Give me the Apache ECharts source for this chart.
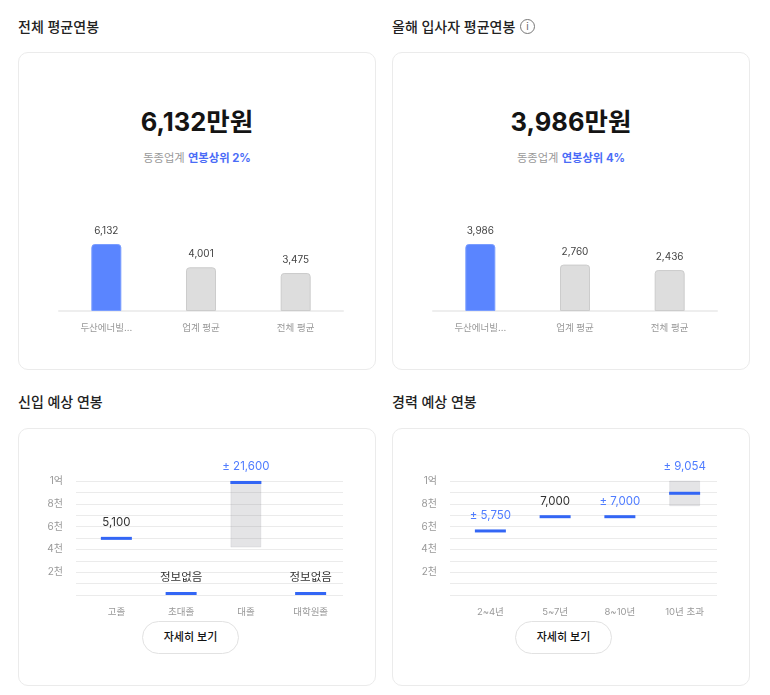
<!DOCTYPE html>
<html>
<head>
<meta charset="utf-8">
<script src="https://cdn.jsdelivr.net/npm/echarts@6/dist/echarts.min.js"></script>
<style>
    html, body { margin: 0; padding: 0; background: #fff; }
    body { width: 770px; height: 695px; position: relative; overflow: hidden; font-family: Inter, "Noto Sans CJK KR", sans-serif; }
    .title { position: absolute; font-size: 14px; font-weight: 500; color: #222; line-height: 20px; white-space: nowrap; }
    .card { position: absolute; width: 356px; border: 1px solid #ebebeb; border-radius: 10px; background: #fff; }
    .big { position: absolute; width: 358px; text-align: center; top: 103px; font-size: 25.5px; font-weight: 700; color: #141414; line-height: 36px; }
    .sub { position: absolute; width: 358px; text-align: center; top: 149px; font-size: 11.3px; color: #9a9a9a; line-height: 18px; }
    .sub b { color: #4a6cf7; font-weight: 700; }
    .chart { position: absolute; }
    .btn { position: absolute; top: 621px; width: 95px; height: 31px; border: 1px solid #e2e2e2; border-radius: 17px; background: #fff; text-align: center; line-height: 31px; font-size: 11px; font-weight: 500; color: #111; }
    .info { position: absolute; left: 520px; top: 19px; width: 13px; height: 13px; border: 1px solid #777; border-radius: 50%; text-align: center; font-size: 10px; line-height: 13px; color: #666; }
</style>
</head>
<body>
<div class="title" style="left:18px;top:17px">전체 평균연봉</div>
<div class="title" style="left:392px;top:17px">올해 입사자 평균연봉</div>
<div class="info">i</div>
<div class="title" style="left:18px;top:392px">신입 예상 연봉</div>
<div class="title" style="left:392px;top:392px">경력 예상 연봉</div>

<div class="card" style="left:18px;top:52px;height:316px"></div>
<div class="card" style="left:392px;top:52px;height:316px"></div>
<div class="card" style="left:18px;top:428px;height:256px"></div>
<div class="card" style="left:392px;top:428px;height:256px"></div>

<div class="big" style="left:18px;top:104px">6,132만원</div>
<div class="sub" style="left:18px">동종업계 <b>연봉상위 2%</b></div>
<div class="big" style="left:392px;top:104px">3,986만원</div>
<div class="sub" style="left:392px">동종업계 <b>연봉상위 4%</b></div>

<div class="chart" id="avgAll" style="left:19px;top:200px;width:356px;height:150px"></div>
<div class="chart" id="avgNew" style="left:393px;top:200px;width:356px;height:150px"></div>
<div class="chart" id="entry" style="left:19px;top:440px;width:356px;height:180px"></div>
<div class="chart" id="career" style="left:393px;top:440px;width:356px;height:180px"></div>

<div class="btn" style="left:142px">자세히 보기</div>
<div class="btn" style="left:515px">자세히 보기</div>

<script>
var fontFamily = 'Inter, "Noto Sans CJK KR", sans-serif';

var avgCategories = ['두산에너빌...', '업계 평균', '전체 평균'];
var avgAllValues = [6132, 4001, 3475];
var avgNewValues = [3986, 2760, 2436];

var yTickValues = [10000, 8000, 6000, 4000, 2000];
var yTickLabels = ['1억', '8천', '6천', '4천', '2천'];

var entryCategories = ['고졸', '초대졸', '대졸', '대학원졸'];
var entryMid = [5100, 0, 10000, 0];
var entryLow = [null, null, 4200, null];
var entryHigh = [null, null, 10000, null];
var entryLabels = ['5,100', '정보없음', '± 21,600', '정보없음'];

var careerCategories = ['2~4년', '5~7년', '8~10년', '10년 초과'];
var careerMid = [5750, 7000, 7000, 9054];
var careerLow = [null, null, null, 7830];
var careerHigh = [null, null, null, 10000];
var careerLabels = ['± 5,750', '7,000', '± 7,000', '± 9,054'];

function drawAvg(id, values) {
    var chart = echarts.init(document.getElementById(id));
    chart.setOption({
        animation: false,
        textStyle: { fontFamily: fontFamily },
        grid: { left: 40, right: 32, top: 44, bottom: 39 },
        xAxis: {
            type: 'category',
            data: avgCategories,
            axisLine: { lineStyle: { color: '#eeeeee', width: 2 } },
            axisTick: { show: false },
            axisLabel: { color: '#999999', fontSize: 9.5, margin: 12, interval: 0 }
        },
        yAxis: { type: 'value', min: 0, max: Math.max.apply(null, values), show: false },
        series: [{
            type: 'bar',
            barWidth: 30,
            z: 5,
            data: values.map(function (v, i) {
                return {
                    value: v,
                    itemStyle: i === 0
                        ? { color: '#5a85ff', borderColor: '#7a9dff', borderWidth: 1, borderRadius: [3, 3, 0, 0] }
                        : { color: '#dddddd', borderColor: '#cccccc', borderWidth: 1, borderRadius: [3, 3, 0, 0] }
                };
            }),
            label: {
                show: true,
                position: 'top',
                distance: 8,
                fontSize: 10,
                color: '#444444',
                formatter: function (p) { return p.value.toLocaleString('en-US'); }
            }
        }]
    });
}

function drawRange(id, categories, mid, low, high, labels) {
    var chart = echarts.init(document.getElementById(id));
    chart.setOption({
        animation: false,
        textStyle: { fontFamily: fontFamily },
        grid: [
            { left: 57, width: 267, top: 41, height: 114 },
            { left: 65, width: 259, top: 41, height: 114 }
        ],
        xAxis: [
            { type: 'value', gridIndex: 0, min: 0, max: 1, show: false },
            {
                type: 'category',
                gridIndex: 1,
                data: categories,
                axisLine: { show: false },
                axisTick: { show: false },
                axisLabel: { color: '#999999', fontSize: 9.5, margin: 12, interval: 0 }
            }
        ],
        yAxis: [
            {
                type: 'value',
                gridIndex: 0,
                min: 0,
                max: 10000,
                interval: 1000,
                axisLine: { show: false },
                axisTick: { show: false },
                splitLine: { lineStyle: { color: '#ebebeb', width: 1 } },
                axisLabel: {
                    color: '#999999',
                    fontSize: 10,
                    margin: 13,
                    formatter: function (v) {
                        var i = yTickValues.indexOf(v);
                        return i < 0 ? '' : yTickLabels[i];
                    }
                }
            },
            { type: 'value', gridIndex: 1, min: 0, max: 10000, show: false }
        ],
        series: [{
            type: 'custom',
            xAxisIndex: 1,
            yAxisIndex: 1,
            clip: false,
            encode: { x: 0, y: 1 },
            data: categories.map(function (c, i) { return [i, mid[i]]; }),
            renderItem: function (params, api) {
                var i = params.dataIndex;
                var top = api.coord([i, mid[i]]);
                var base = api.coord([i, 0])[1];
                // 마커는 값 위치에서 아래로 그림, 0이면 축 위에 올림
                var y = Math.min(top[1], base - 3);
                var labelY = y;
                var children = [];
                if (low[i] !== null) {
                    var bandTop = api.coord([i, high[i]])[1];
                    var bandBottom = api.coord([i, low[i]])[1];
                    labelY = bandTop;
                    children.push({
                        type: 'rect',
                        shape: { x: top[0] - 15, y: bandTop, width: 30, height: bandBottom - bandTop },
                        style: { fill: 'rgba(120,120,130,0.2)', stroke: 'rgba(120,120,130,0.12)', lineWidth: 1 }
                    });
                }
                children.push({
                    type: 'rect',
                    shape: { x: top[0] - 15.5, y: y, width: 31, height: 3 },
                    style: { fill: '#3366f5' }
                });
                children.push({
                    type: 'text',
                    style: {
                        x: top[0],
                        y: labelY - 14,
                        text: labels[i],
                        fill: labels[i].charAt(0) === '±' ? '#4f7cff' : '#333333',
                        font: '11.5px ' + fontFamily,
                        align: 'center',
                        verticalAlign: 'middle'
                    }
                });
                return { type: 'group', children: children };
            }
        }]
    });
}

drawAvg('avgAll', avgAllValues);
drawAvg('avgNew', avgNewValues);
drawRange('entry', entryCategories, entryMid, entryLow, entryHigh, entryLabels);
drawRange('career', careerCategories, careerMid, careerLow, careerHigh, careerLabels);
</script>
</body>
</html>
